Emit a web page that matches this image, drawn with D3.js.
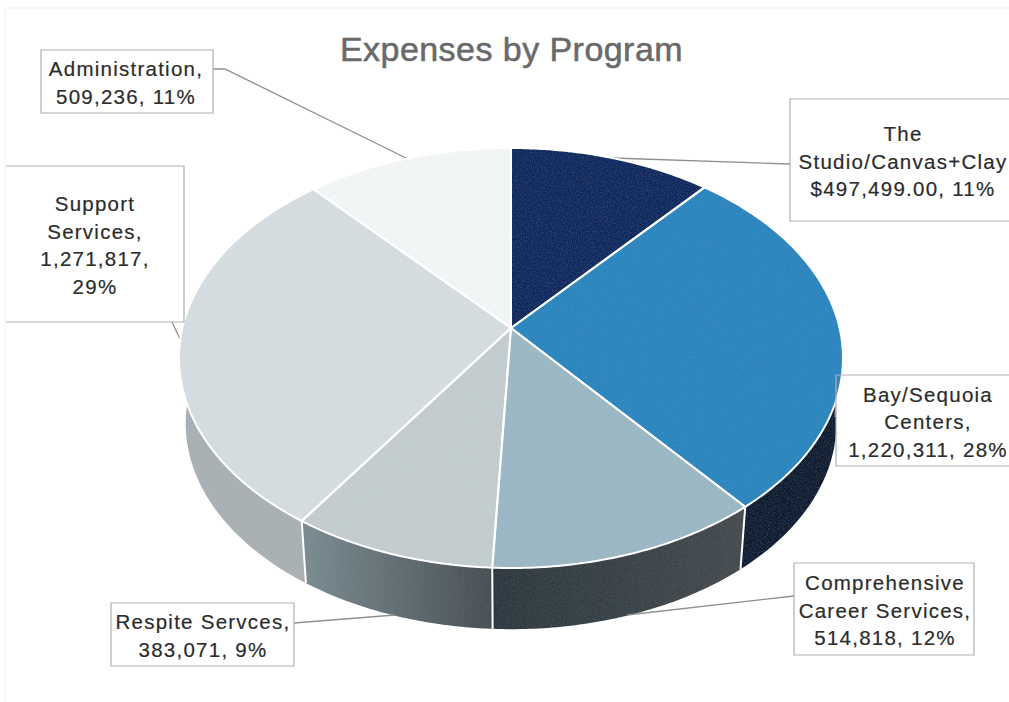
<!DOCTYPE html>
<html>
<head>
<meta charset="utf-8">
<title>Expenses by Program</title>
<script src="https://cdn.jsdelivr.net/npm/d3@7"></script>
<style>
  html, body { margin: 0; padding: 0; background: #fff; }
  svg { display: block; }
  text { font-family: "Liberation Sans", Arial, sans-serif; }
</style>
</head>
<body>
<svg id="chart" width="1009" height="702"></svg>
<script>
// Program names and expense amounts, clockwise from twelve o'clock
const programs = ["The Studio/Canvas+Clay", "Bay/Sequoia Centers", "Comprehensive Career Services",
                  "Respite Servces", "Support Services", "Administration"];
const expenses = [497499, 1220311, 514818, 383071, 1271817, 509236];
const labelLines = [
  ["The", "Studio/Canvas+Clay", "$497,499.00, 11%"],
  ["Bay/Sequoia", "Centers,", "1,220,311, 28%"],
  ["Comprehensive", "Career Services,", "514,818, 12%"],
  ["Respite Servces,", "383,071, 9%"],
  ["Support", "Services,", "1,271,817,", "29%"],
  ["Administration,", "509,236, 11%"]
];
const chartTitle = "Expenses by Program";

// Face and wall colours per slice; walls carry a left-to-right shade
const faceColors = ["#0a2a60", "#2a86bf", "#9cb8c4", "#c3cdcf", "#d5dde1", "#f3f5f6"];
const wallLeft   = ["#0c2338", "#12304a", "#2c383f", "#7a8b91", "#a9b1b4", "#a9b1b4"];
const wallRight  = ["#0c2338", "#0a1f32", "#454c50", "#474f53", "#88949a", "#88949a"];

// Label boxes and their leader lines, in page pixels
const boxes = [
  { x: 790, y: 99,  w: 240, h: 122, tx: 903, lh: 27.5, leader: [[790, 164], [612, 158]] },
  { x: 836, y: 375, w: 200, h: 91,  tx: 928, lh: 27.5, leader: [[836, 398], [835, 417]] },
  { x: 794, y: 563, w: 180, h: 92,  tx: 885, lh: 27.5, leader: [[794, 596], [627, 615]] },
  { x: 111, y: 603, w: 183, h: 63,  tx: 203, lh: 28,   leader: [[294, 623], [395, 615]] },
  { x: 6,   y: 166, w: 178, h: 156, tx: 95,  lh: 27.5, leader: [[172, 322], [181, 341]], openLeft: true },
  { x: 41,  y: 50,  w: 172, h: 63,  tx: 126, lh: 28,   leader: [[213, 69], [225, 69], [406, 158]] }
];

// Perspective projection of the disc: the apex sits above the visual centre of the ellipse
const persp = 1 / 7;
const topRing = { cx: 511, cy: 328, rx: 328.6, ry: 205.7 };
const baseRing = { cx: 511, cy: 394, rx: 322, ry: 201.6 };
const project = (ring, a) => {
  const u = Math.sin(a), v = -Math.cos(a), d = 1 - persp * v;
  return [ring.cx + ring.rx * u / d, ring.cy + ring.ry * v / d];
};
const arcSamples = (ring, a0, a1) =>
  d3.range(0, 61).map(i => project(ring, a0 + (a1 - a0) * i / 60));

const slices = d3.pie().sort(null)(expenses);
const svg = d3.select("#chart");
const line = d3.line();

// Scanned page edges
svg.append("path").attr("d", "M5,8H1009M5,8V702")
  .attr("fill", "none").attr("stroke", "#f0f0f0").attr("stroke-width", 1);

svg.append("text")
  .attr("x", 511.5).attr("y", 61)
  .attr("text-anchor", "middle")
  .attr("font-size", 34).attr("letter-spacing", 0.45)
  .attr("stroke", "#6a6a6a").attr("stroke-width", 0.55)
  .attr("fill", "#6a6a6a")
  .text(chartTitle);

const defs = svg.append("defs");

// Paper grain on the printed faces
const grain = defs.append("filter").attr("id", "grain")
  .attr("x", 0).attr("y", 0).attr("width", 1).attr("height", 1);
grain.append("feTurbulence").attr("type", "fractalNoise").attr("baseFrequency", 0.8)
  .attr("numOctaves", 2).attr("seed", 4).attr("result", "noise");
grain.append("feColorMatrix").attr("in", "noise").attr("type", "matrix")
  .attr("values", "0 0 0 0 0.35  0 0 0 0 0.4  0 0 0 0 0.45  1.1 0 0 0 -0.5").attr("result", "speck");
grain.append("feComposite").attr("in", "speck").attr("in2", "SourceAlpha")
  .attr("operator", "in").attr("result", "clipped");
grain.append("feComponentTransfer").attr("in", "clipped").attr("result", "faint")
  .append("feFuncA").attr("type", "linear").attr("slope", 0.22);
const merge = grain.append("feMerge");
merge.append("feMergeNode").attr("in", "SourceGraphic");
merge.append("feMergeNode").attr("in", "faint");

// Wall gradients
slices.forEach((s, i) => {
  const left = project(baseRing, s.endAngle)[0], right = project(baseRing, s.startAngle)[0];
  const g = defs.append("linearGradient")
    .attr("id", "wall" + i).attr("gradientUnits", "userSpaceOnUse")
    .attr("x1", Math.min(left, right)).attr("x2", Math.max(left, right))
    .attr("y1", 0).attr("y2", 0);
  g.append("stop").attr("offset", 0).attr("stop-color", wallLeft[i]);
  g.append("stop").attr("offset", 1).attr("stop-color", wallRight[i]);
});

// Outer wall: front-facing slices only, the top face hides the rest
const walls = svg.append("g");
walls.selectAll("path").data(slices).join("path")
  .attr("d", s => line([...arcSamples(topRing, s.startAngle, s.endAngle),
                        ...arcSamples(baseRing, s.endAngle, s.startAngle)]) + "Z")
  .attr("fill", (s, i) => `url(#wall${i})`)
  .attr("filter", "url(#grain)");
walls.selectAll("line").data(slices.slice(1, 5)).join("line")
  .each(function (s) {
    const a = project(topRing, s.startAngle), b = project(baseRing, s.startAngle);
    d3.select(this).attr("x1", a[0]).attr("y1", a[1]).attr("x2", b[0]).attr("y2", b[1]);
  })
  .attr("stroke", "#fff").attr("stroke-width", 2);

// Label fills and leaders sit behind the top face
const labels = svg.append("g").selectAll("g").data(boxes).join("g");
labels.append("path")
  .attr("d", b => line(b.leader))
  .attr("fill", "none").attr("stroke", "#8f8f8f").attr("stroke-width", 1.3);
labels.append("rect")
  .attr("x", b => b.x).attr("y", b => b.y).attr("width", b => b.w).attr("height", b => b.h)
  .attr("fill", "#fff");

// Top face, with the white rim and separators
svg.append("g").selectAll("path").data(slices).join("path")
  .attr("d", s => line([[topRing.cx, topRing.cy], ...arcSamples(topRing, s.startAngle, s.endAngle)]) + "Z")
  .attr("fill", (s, i) => faceColors[i])
  .attr("filter", "url(#grain)");
svg.append("g").selectAll("path").data(slices).join("path")
  .attr("d", s => line([[topRing.cx, topRing.cy], ...arcSamples(topRing, s.startAngle, s.endAngle)]) + "Z")
  .attr("fill", "none")
  .attr("stroke", "#fff").attr("stroke-width", 2).attr("stroke-linejoin", "round");

// Box outlines and text go on top; the Support box runs off to the left with no side edge
const frames = svg.append("g").selectAll("g").data(boxes).join("g");
frames.append("path")
  .attr("d", b => b.openLeft
    ? `M${b.x},${b.y}H${b.x + b.w}V${b.y + b.h}H${b.x}`
    : `M${b.x},${b.y}H${b.x + b.w}V${b.y + b.h}H${b.x}Z`)
  .attr("fill", "none").attr("stroke", "#b0b0b0").attr("stroke-width", 1.2);
frames.append("g").each(function (b, i) {
  const lines = labelLines[i];
  const firstY = b.y + b.h / 2 - (lines.length - 1) * b.lh / 2 + 8.5;
  d3.select(this).selectAll("text").data(lines).join("text")
    .attr("x", b.tx).attr("y", (d, k) => firstY + k * b.lh)
    .attr("text-anchor", "middle").attr("font-size", 20.5).attr("letter-spacing", 1.25)
    .attr("fill", "#2c2c2c").attr("stroke", "#2c2c2c").attr("stroke-width", 0.2)
    .text(d => d);
});
</script>
</body>
</html>
